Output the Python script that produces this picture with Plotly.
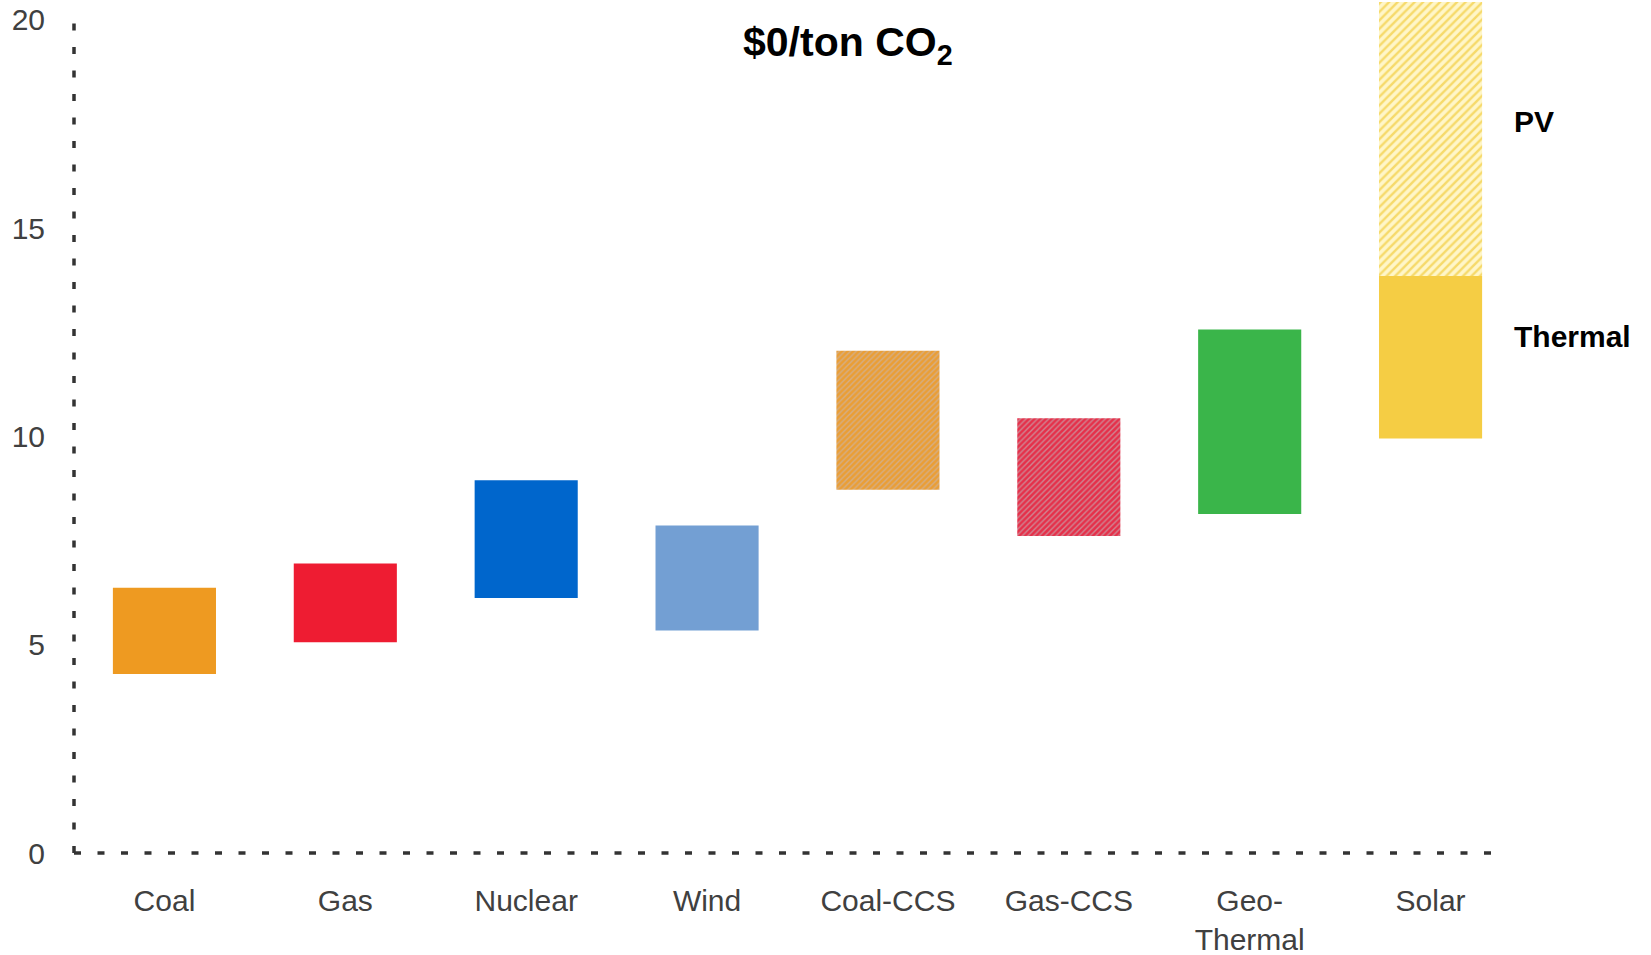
import plotly.graph_objects as go

categories = ["Coal", "Gas", "Nuclear", "Wind", "Coal-CCS", "Gas-CCS", "Geo-<br>Thermal", "Solar"]

# solid bars (low, high)
solid_x = ["Coal", "Gas", "Nuclear", "Wind", "Geo-<br>Thermal", "Solar"]
solid_low = [4.30, 5.06, 6.12, 5.34, 8.14, 9.95]
solid_high = [6.37, 6.95, 8.95, 7.86, 12.57, 13.85]
solid_colors = ["#EE9A21", "#EE1C32", "#0066CC", "#739FD3", "#3AB54A", "#F5CD44"]

# hatched bars (low, high)
hatch_x = ["Coal-CCS", "Gas-CCS", "Solar"]
hatch_low = [8.72, 7.61, 13.85]
hatch_high = [12.06, 10.44, 20.6]
hatch_bg = ["#EA9E35", "#E5304A", "#FFF6C8"]
hatch_fg = ["#D4AE86", "#CF8693", "#F6DA6A"]
hatch_size = [4, 4, 6]
hatch_solidity = [0.35, 0.35, 0.4]

fig = go.Figure()
fig.add_trace(go.Bar(
    x=solid_x, y=[h - l for h, l in zip(solid_high, solid_low)], base=solid_low,
    marker=dict(color=solid_colors, line=dict(width=0)), width=0.57,
    showlegend=False, hoverinfo="skip"))
for xi, lo, hi, bg, fg, sz, so in zip(hatch_x, hatch_low, hatch_high, hatch_bg,
                                      hatch_fg, hatch_size, hatch_solidity):
    fig.add_trace(go.Bar(
        x=[xi], y=[hi - lo], base=[lo],
        marker=dict(color=bg, line=dict(width=0),
                    pattern=dict(shape="/", fgcolor=fg, bgcolor=bg,
                                 size=sz, solidity=so, fillmode="replace")),
        width=0.57, showlegend=False, hoverinfo="skip"))

font_family = "Liberation Sans, Arial, sans-serif"

fig.update_layout(
    width=1651, height=955,
    margin=dict(l=73.5, r=129.5, t=2, b=102, pad=0, autoexpand=False),
    paper_bgcolor="white", plot_bgcolor="white",
    barmode="overlay",
    font=dict(family=font_family, size=30, color="#404040"),
    xaxis=dict(categoryorder="array", categoryarray=categories,
               showgrid=False, zeroline=False, showline=False, automargin=False,
               ticks="", tickfont=dict(size=30, color="#404040"),
               ticklabelstandoff=27),
    yaxis=dict(range=[0, 20.43], tickvals=[0, 5, 10, 15, 20], automargin=False,
               showgrid=False, zeroline=False, showline=False,
               ticks="", tickfont=dict(size=30, color="#404040"),
               ticklabelstandoff=28),
    shapes=[
        dict(type="line", xref="paper", yref="paper", x0=0, x1=0, y0=0, y1=0.981,
             line=dict(color="#333333", width=3.5, dash="7px,16.5px")),
        dict(type="line", xref="paper", yref="paper", x0=0, x1=0.9845, y0=0, y1=0,
             line=dict(color="#333333", width=3.5, dash="7px,16.5px")),
    ],
    annotations=[
        dict(text="<b>$0/ton CO<sub>2</sub></b>", xref="paper", yref="paper",
             x=0.535, y=0.949, xanchor="center", yanchor="middle", showarrow=False,
             font=dict(size=41, color="black", family=font_family)),
        dict(text="<b>PV</b>", xref="paper", yref="y", x=0.9935, y=17.57,
             xanchor="left", yanchor="middle", showarrow=False,
             font=dict(size=30, color="black", family=font_family)),
        dict(text="<b>Thermal</b>", xref="paper", yref="y", x=0.9935, y=12.39,
             xanchor="left", yanchor="middle", showarrow=False,
             font=dict(size=30, color="black", family=font_family)),
    ],
)

fig.write_html("out.html", config={"displayModeBar": False},
               post_script="document.body.style.margin='0';")
